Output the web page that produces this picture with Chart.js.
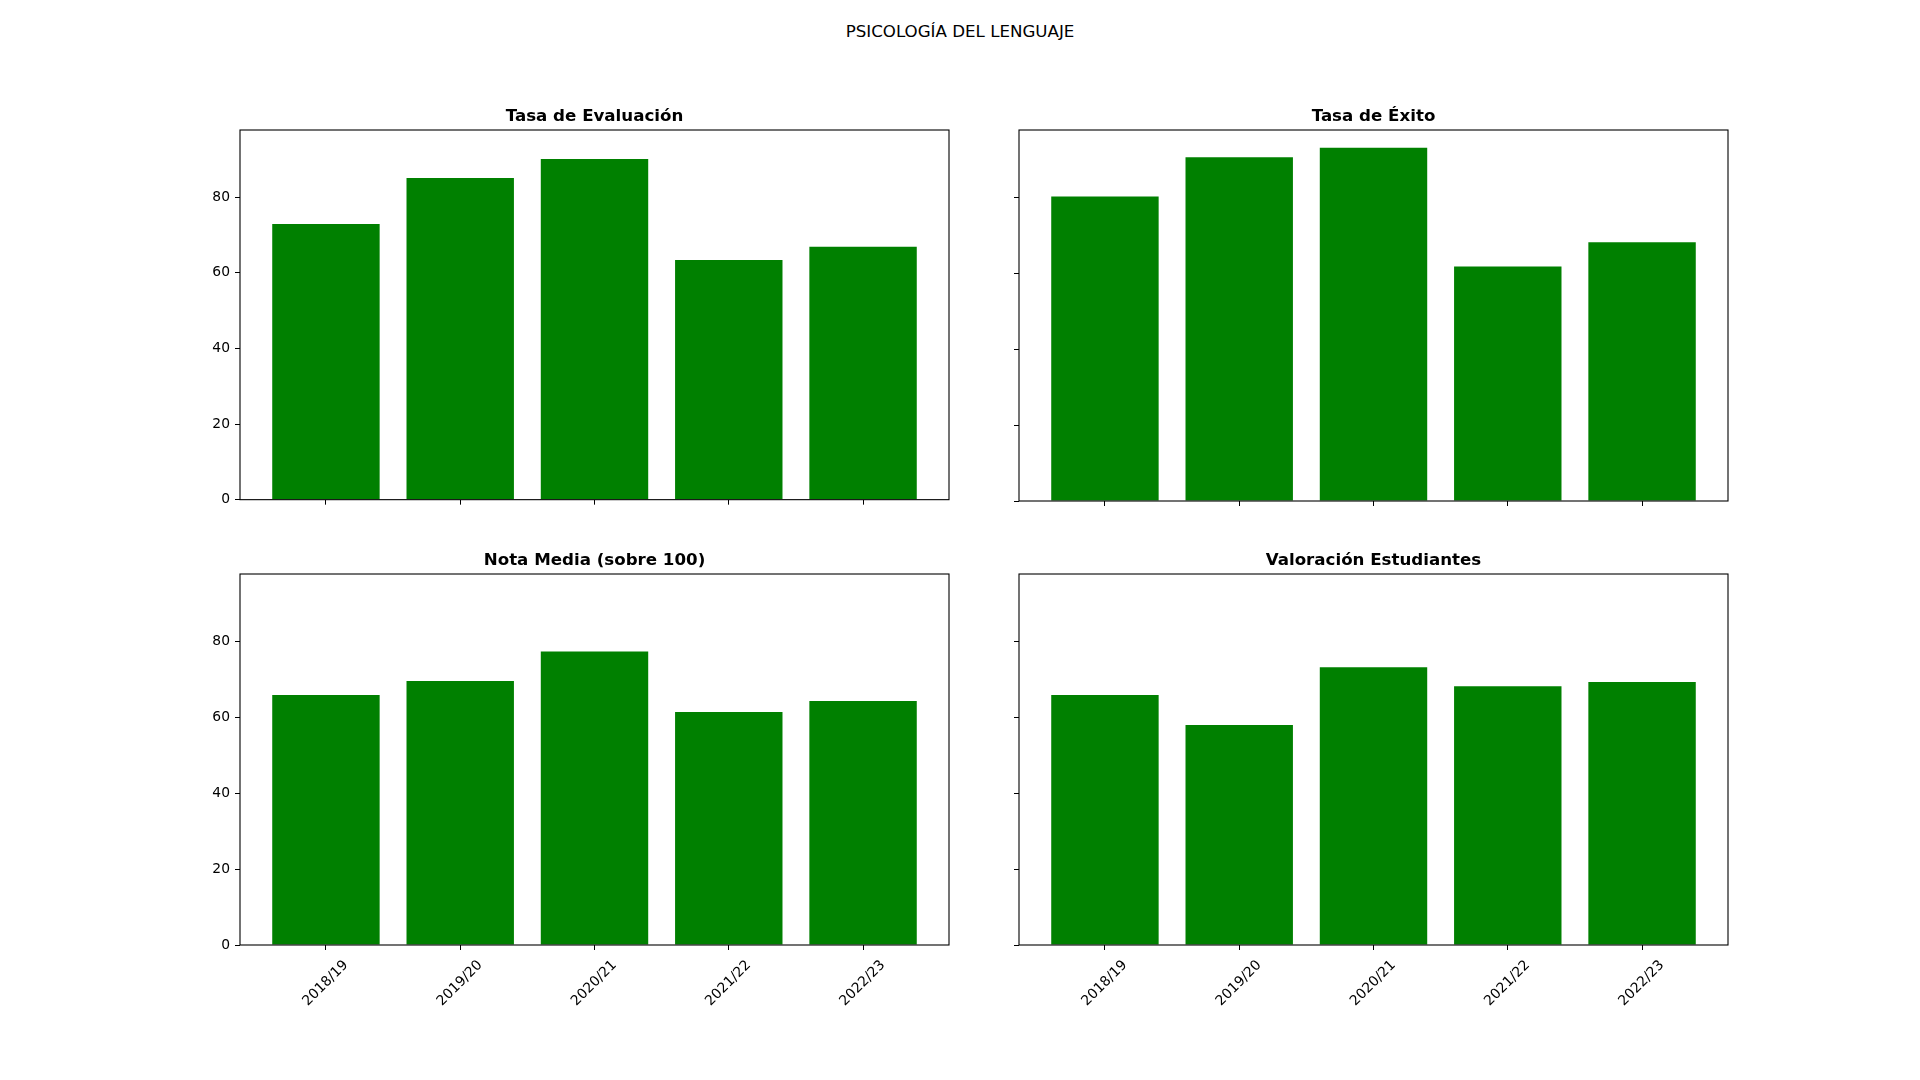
<!DOCTYPE html>
<html>
<head>
<meta charset="utf-8">
<script src="https://cdn.jsdelivr.net/npm/chart.js@4.4.1/dist/chart.umd.min.js"></script>
<style>
    body { margin: 0; background: #fff; }
    #page { position: relative; width: 1920px; height: 1080px; overflow: hidden; }
    #suptitle {
        position: absolute; left: 0; top: 22px; width: 1920px;
        text-align: center; font: 16.67px "DejaVu Sans"; line-height: 20px; color: #000;
    }
    .panel { position: absolute; }
</style>
</head>
<body>
<div id="page">
    <div id="suptitle">PSICOLOGÍA DEL LENGUAJE</div>
    <canvas id="c1" class="panel" width="765" height="408" style="left:190px; top:105px;"></canvas>
    <canvas id="c2" class="panel" width="765" height="408" style="left:969px; top:105px;"></canvas>
    <canvas id="c3" class="panel" width="765" height="476" style="left:190px; top:549px;"></canvas>
    <canvas id="c4" class="panel" width="765" height="476" style="left:969px; top:549px;"></canvas>
</div>
<script>
// Datos
const cursos = ['2018/19', '2019/20', '2020/21', '2021/22', '2022/23'];
const tasaEvaluacion = [72.9, 85.1, 90.1, 63.4, 66.9];
const tasaExito = [80.3, 90.6, 93.1, 61.8, 68.2];
const notaMedia = [65.9, 69.6, 77.4, 61.4, 64.3];
const valoracion = [65.9, 58.0, 73.2, 68.2, 69.3];
const yTicks = [0, 20, 40, 60, 80];
const yMax = 97.8;

window.onload = init

// draws the four spines like matplotlib
const frame = {
    id: 'frame',
    afterDatasetsDraw(chart) {
        const a = chart.chartArea;
        const ctx = chart.ctx;
        ctx.save();
        ctx.strokeStyle = '#000';
        ctx.lineWidth = 1.1;
        ctx.strokeRect(a.left, a.top, a.right - a.left, a.bottom - a.top);
        ctx.restore();
    }
};

function makePanel(id, title, values, showX, showY) {
    const points = values.map(function(v, i){ return {x: i, y: v}; });
    return new Chart(document.getElementById(id), {
        type: 'bar',
        data: {
            datasets: [{
                data: points,
                backgroundColor: '#008000',
                borderWidth: 0,
                barPercentage: 0.8,
                categoryPercentage: 1.0
            }]
        },
        options: {
            responsive: false,
            animation: false,
            layout: { padding: { left: 0, right: 6, top: 0, bottom: 0 } },
            plugins: {
                legend: { display: false },
                tooltip: { enabled: false },
                title: {
                    display: true,
                    fullSize: false, // only as wide as the plot, so it is centred over it
                    text: title,
                    color: '#000',
                    font: { family: 'DejaVu Sans', size: 16.67, weight: 'bold' },
                    padding: { top: 2, bottom: 3 }
                }
            },
            scales: {
                x: {
                    type: 'linear',
                    offset: false,
                    min: -0.64,
                    max: 4.64,
                    afterBuildTicks: function(scale){
                        scale.ticks = cursos.map(function(c, i){ return {value: i}; });
                    },
                    afterFit: function(scale){ scale.height = showX ? 80 : 12; },
                    border: { display: false },
                    grid: { display: true, offset: false, drawOnChartArea: false, drawTicks: true, tickLength: 5, color: '#000', lineWidth: 1 },
                    ticks: {
                        display: showX,
                        autoSkip: false,
                        minRotation: 45,
                        maxRotation: 45,
                        padding: 7,
                        labelOffset: 20,
                        color: '#000',
                        font: { family: 'DejaVu Sans', size: 13.89 },
                        callback: function(value){ return cursos[value]; }
                    }
                },
                y: {
                    min: 0,
                    max: yMax,
                    afterBuildTicks: function(scale){
                        scale.ticks = yTicks.map(function(v){ return {value: v}; });
                    },
                    afterFit: function(scale){ scale.width = 50; },
                    border: { display: false },
                    grid: { display: true, drawOnChartArea: false, drawTicks: true, tickLength: 5, color: '#000', lineWidth: 1 },
                    ticks: {
                        display: showY,
                        padding: 5,
                        color: '#000',
                        font: { family: 'DejaVu Sans', size: 13.89 }
                    }
                }
            }
        },
        plugins: [frame]
    });
}

function init(){
    makePanel('c1', 'Tasa de Evaluación', tasaEvaluacion, false, true);
    makePanel('c2', 'Tasa de Éxito', tasaExito, false, false);
    makePanel('c3', 'Nota Media (sobre 100)', notaMedia, true, true);
    makePanel('c4', 'Valoración Estudiantes', valoracion, true, false);
}
</script>
</body>
</html>
